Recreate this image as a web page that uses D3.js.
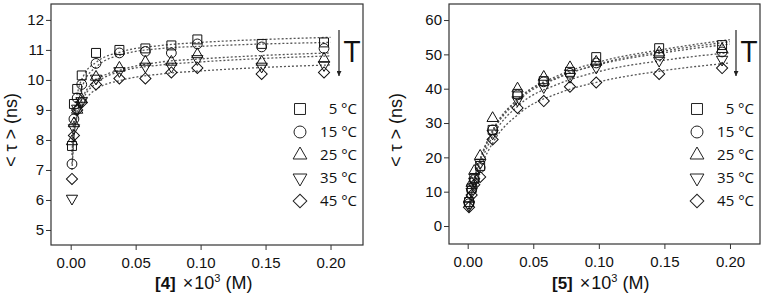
<!DOCTYPE html>
<html>
<head>
<meta charset="utf-8">
<script src="https://cdn.jsdelivr.net/npm/d3@7"></script>
<style>
  body { margin: 0; background: #fff; }
  svg { display: block; }
</style>
</head>
<body>
<div id="container"></div>
<script>
/* CONSTANTS AND GLOBALS */
const width = 765,
      height = 295;

const temps = ["5 °C", "15 °C", "25 °C", "35 °C", "45 °C"];
const xTicks = [0, 0.05, 0.1, 0.15, 0.2];

/* DATA - compound 4 */
const conc4 = [0.001, 0.0025, 0.005, 0.0085, 0.0195, 0.0375, 0.0575, 0.0775, 0.0975, 0.147, 0.195];
const tau4_5 = [7.8, 9.2, 9.7, 10.15, 10.9, 11.0, 11.05, 11.15, 11.35, 11.2, 11.25];
const tau4_15 = [7.2, 8.7, 9.4, 9.85, 10.55, 10.9, 10.95, 10.9, 11.2, 11.1, 11.05];
const tau4_25 = [7.95, 8.55, 9.0, 9.35, 10.1, 10.4, 10.6, 10.6, 10.85, 10.6, 10.7];
const tau4_35 = [6.05, 8.4, 9.05, 9.3, 10.05, 10.3, 10.45, 10.45, 10.7, 10.45, 10.5];
const tau4_45 = [6.7, 8.15, 9.0, 9.25, 9.85, 10.05, 10.05, 10.25, 10.4, 10.2, 10.25];

// fitted curves
const fitConc = [0.001, 0.003, 0.006, 0.01, 0.02, 0.04, 0.07, 0.1, 0.15, 0.2];
const fit4_5 = [7.9, 9.0, 9.7, 10.15, 10.6, 10.95, 11.15, 11.25, 11.35, 11.42];
const fit4_15 = [7.5, 8.7, 9.4, 9.9, 10.45, 10.85, 11.05, 11.12, 11.2, 11.25];
const fit4_25 = [7.6, 8.5, 9.1, 9.5, 10.0, 10.35, 10.6, 10.7, 10.82, 10.9];
const fit4_35 = [7.0, 8.3, 8.95, 9.4, 9.9, 10.3, 10.5, 10.6, 10.72, 10.8];
const fit4_45 = [7.2, 8.3, 8.9, 9.25, 9.7, 10.0, 10.2, 10.3, 10.42, 10.5];

/* DATA - compound 5 */
const conc5 = [0.001, 0.003, 0.005, 0.0095, 0.019, 0.038, 0.058, 0.078, 0.098, 0.146, 0.194];
const tau5_5 = [7, 11, 14, 17.5, 28, 38.5, 42.2, 44.9, 49.2, 51.8, 52.7];
const tau5_15 = [6.5, 10.5, 13.5, 17, 28, 38.2, 42, 44.5, 47.5, 49.8, 50.7];
const tau5_25 = [8, 12.5, 16, 20.4, 31.4, 40, 43.4, 46.2, 47.8, 50.5, 51.5];
const tau5_35 = [6, 10, 13, 18.4, 27, 36.7, 40.5, 43.5, 46.2, 48.2, 48.5];
const tau5_45 = [5.5, 9, 12, 14.3, 25.2, 34.4, 36.4, 40.6, 41.8, 44.3, 46];

const fit5_5 = [5, 10, 15, 20, 28.5, 37.5, 44, 47.8, 51.5, 54.3];
const fit5_15 = [4.8, 9.8, 14.5, 19.5, 28, 37, 43.3, 47.2, 51, 53.7];
const fit5_25 = [5, 10.3, 15.2, 20, 28.5, 37.5, 43.5, 47, 50.5, 53];
const fit5_35 = [4.5, 9.5, 14, 18.5, 26.8, 35.5, 41.5, 45, 48.3, 50.5];
const fit5_45 = [4.2, 8.8, 13, 17.2, 24.8, 33, 38.8, 42, 45.3, 47.5];

const yTicks4 = [5, 6, 7, 8, 9, 10, 11, 12];
const yTicks5 = [0, 10, 20, 30, 40, 50, 60];

/* SYMBOLS */
const shapes = [
  {type: d3.symbolSquare, size: 80, rot: 0},
  {type: d3.symbolCircle, size: 75, rot: 0},
  {type: d3.symbolTriangle, size: 55, rot: 0},
  {type: d3.symbolTriangle, size: 55, rot: 180},
  {type: d3.symbolSquare, size: 62, rot: 45}
];

const svg = d3.select("#container")
  .append("svg")
  .attr("width", width)
  .attr("height", height)
  .style("font-family", "'Liberation Sans', Arial, sans-serif");

// arrow head pointing along the line
svg.append("defs").append("marker")
  .attr("id", "arrow")
  .attr("viewBox", "0 0 10 10")
  .attr("refX", 10).attr("refY", 5)
  .attr("markerWidth", 6).attr("markerHeight", 5)
  .attr("markerUnits", "userSpaceOnUse")
  .attr("orient", "auto")
  .append("path")
  .attr("d", "M0,0 L10,5 L0,10 Z")
  .attr("fill", "#222");

function drawPanel(p) {
  const g = svg.append("g");

  const xScale = d3.scaleLinear().domain(p.xDomain).range([p.left, p.right]);
  const yScale = d3.scaleLinear().domain(p.yDomain).range([p.bottom, p.top]);

  // frame
  g.append("rect")
    .attr("x", p.left).attr("y", p.top)
    .attr("width", p.right - p.left).attr("height", p.bottom - p.top)
    .attr("fill", "none").attr("stroke", "#333").attr("stroke-width", 1.2);

  // axes
  const xAxis = g.append("g")
    .attr("transform", `translate(0,${p.bottom})`)
    .call(d3.axisBottom(xScale).tickValues(xTicks).tickFormat(d3.format(".2f")).tickSize(5).tickSizeOuter(0));
  const yAxis = g.append("g")
    .attr("transform", `translate(${p.left},0)`)
    .call(d3.axisLeft(yScale).tickValues(p.yTicks).tickSize(5).tickSizeOuter(0));
  [xAxis, yAxis].forEach(a => {
    a.select(".domain").remove();
    a.selectAll("line").attr("stroke", "#333");
    a.selectAll("text").attr("fill", "#111").style("font-size", "15px")
      .style("font-family", "'Liberation Sans', Arial, sans-serif");
  });
  xAxis.selectAll("text").attr("dy", "1.0em");
  yAxis.selectAll("text").attr("x", -7);

  // fit lines
  const line = d3.line()
    .x((d, i) => xScale(fitConc[i]))
    .y(d => yScale(d))
    .curve(d3.curveMonotoneX);
  p.fits.forEach(f => {
    g.append("path")
      .attr("d", line(f))
      .attr("fill", "none")
      .attr("stroke", "#555")
      .attr("stroke-width", 1.3)
      .attr("stroke-dasharray", "2,2");
  });

  // points
  p.series.forEach((s, k) => {
    const sym = d3.symbol().type(shapes[k].type).size(shapes[k].size);
    g.selectAll(".pt" + k)
      .data(s)
      .join("path")
      .attr("class", "pt" + k)
      .attr("d", sym)
      .attr("transform", (d, i) => `translate(${xScale(p.conc[i])},${yScale(d)}) rotate(${shapes[k].rot})`)
      .attr("fill", "none")
      .attr("stroke", "#111")
      .attr("stroke-width", 1);
  });

  // legend
  const leg = g.append("g");
  temps.forEach((t, k) => {
    const y = 109 + k * 23;
    const sym = d3.symbol().type(shapes[k].type).size(shapes[k].size * 1.5);
    leg.append("path")
      .attr("d", sym)
      .attr("transform", `translate(${p.right - 63},${y}) rotate(${shapes[k].rot})`)
      .attr("fill", "none").attr("stroke", "#222").attr("stroke-width", 1);
    leg.append("text")
      .attr("x", p.right - 6).attr("y", y)
      .attr("dy", "0.36em")
      .attr("text-anchor", "end")
      .style("font-family", "'Open Sans', sans-serif")
      .style("font-size", "15px")
      .attr("fill", "#111")
      .text(t);
  });

  // temperature arrow
  g.append("line")
    .attr("x1", p.right - 24).attr("x2", p.right - 24)
    .attr("y1", 30).attr("y2", 76)
    .attr("stroke", "#222").attr("stroke-width", 1.2)
    .attr("marker-end", "url(#arrow)");
  g.append("text")
    .attr("x", p.right - 11).attr("y", 62)
    .attr("text-anchor", "middle")
    .style("font-family", "'Open Sans', sans-serif")
    .style("font-size", "30px")
    .attr("fill", "#111")
    .text("T");

  // axis titles
  const xt = g.append("text")
    .attr("x", p.titleX).attr("y", 289)
    .attr("fill", "#111")
    .style("font-size", "18px");
  xt.append("tspan").style("font-weight", "bold").style("font-size", "17px").text(p.name);
  xt.append("tspan").attr("dx", 7).text("×");
  xt.append("tspan").attr("dx", 1).text("10");
  xt.append("tspan").attr("dy", -7).style("font-size", "11px").text("3");
  xt.append("tspan").attr("dy", 7).attr("dx", 5).text("(M)");

  g.append("text")
    .attr("transform", `translate(${p.yTitleX},130) rotate(-90)`)
    .attr("text-anchor", "middle")
    .attr("fill", "#111")
    .style("font-size", "18px")
    .text("< τ > (ns)");
}

drawPanel({
  left: 51, right: 363, top: 4, bottom: 245,
  xDomain: [-0.01515, 0.225], yDomain: [4.5, 12.53],
  yTicks: yTicks4, conc: conc4,
  series: [tau4_5, tau4_15, tau4_25, tau4_35, tau4_45],
  fits: [fit4_5, fit4_15, fit4_25, fit4_35, fit4_45],
  name: "[4]", titleX: 155, yTitleX: 17
});

drawPanel({
  left: 449, right: 760, top: 4, bottom: 244,
  xDomain: [-0.01426, 0.2229], yDomain: [-5.24, 64.67],
  yTicks: yTicks5, conc: conc5,
  series: [tau5_5, tau5_15, tau5_25, tau5_35, tau5_45],
  fits: [fit5_5, fit5_15, fit5_25, fit5_35, fit5_45],
  name: "[5]", titleX: 552, yTitleX: 402
});
</script>
</body>
</html>
